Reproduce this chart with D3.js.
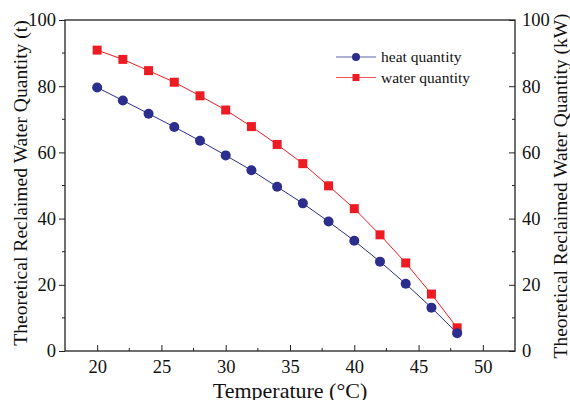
<!DOCTYPE html>
<html>
<head>
<meta charset="utf-8">
<script src="https://cdn.jsdelivr.net/npm/d3@7"></script>
<style>
  body { margin: 0; background: #fff; }
  text { font-family: "Liberation Serif", "Times New Roman", serif; fill: #111; }
</style>
</head>
<body>
<div id="viz"></div>
<script>
  var temps = [20, 22, 24, 26, 28, 30, 32, 34, 36, 38, 40, 42, 44, 46, 48];
  var heatVals = [79.6, 75.7, 71.7, 67.7, 63.5, 59.1, 54.6, 49.6, 44.6, 39.1, 33.3, 27.0, 20.3, 13.1, 5.4];
  var waterVals = [90.9, 88.1, 84.7, 81.2, 77.1, 72.8, 67.8, 62.4, 56.6, 49.9, 43.0, 35.1, 26.6, 17.2, 7.0];
  var xTicks = [20, 25, 30, 35, 40, 45, 50];
  var yTicks = [0, 20, 40, 60, 80, 100];
  var seriesNames = ["heat quantity", "water quantity"];

  (function() {
    var W = 570, H = 400;
    var mLeft = 65, mRight = 515, mTop = 20, mBottom = 351;
    var blue = "#2b2e8c", red = "#ed1c24";

    var svg = d3.select("#viz").append("svg").attr("width", W).attr("height", H);

    var x = d3.scaleLinear().domain([17.5, 52.5]).range([mLeft, mRight]);
    var y = d3.scaleLinear().domain([0, 100]).range([mBottom, mTop]);

    // frame
    svg.append("rect").attr("x", mLeft).attr("y", mTop)
      .attr("width", mRight - mLeft).attr("height", mBottom - mTop)
      .attr("fill", "none").attr("stroke", "#222").attr("stroke-width", 1.3);

    // bottom axis, ticks pointing in
    var xAx = svg.append("g").attr("transform", "translate(0," + mBottom + ")")
      .call(d3.axisBottom(x).tickValues(xTicks).tickSizeInner(-6).tickSizeOuter(0).tickPadding(9));
    xAx.selectAll("line").attr("stroke", "#222");
    xAx.selectAll(".tick text").style("font-size", "18.5px").attr("fill", "#111");
    var xMinor = d3.range(22.5, 52.5, 5);
    svg.append("g").selectAll("line").data(xMinor).enter().append("line")
      .attr("x1", function(d) { return x(d); }).attr("x2", function(d) { return x(d); })
      .attr("y1", mBottom).attr("y2", mBottom - 3).attr("stroke", "#222");

    // left axis, ticks out
    var yAx = svg.append("g").attr("transform", "translate(" + mLeft + ",0)")
      .call(d3.axisLeft(y).tickValues(yTicks).tickSize(6).tickSizeOuter(0).tickPadding(3));
    yAx.selectAll("line").attr("stroke", "#222");
    yAx.selectAll(".tick text").style("font-size", "18.5px").attr("fill", "#111");

    // right axis, ticks in
    var yAxR = svg.append("g").attr("transform", "translate(" + mRight + ",0)")
      .call(d3.axisRight(y).tickValues(yTicks).tickSizeInner(-6).tickSizeOuter(0).tickPadding(7));
    yAxR.selectAll("line").attr("stroke", "#222");
    yAxR.selectAll(".tick text").style("font-size", "18.5px").attr("fill", "#111");
    svg.selectAll(".domain").remove();

    var yMinor = d3.range(10, 100, 20);
    svg.append("g").selectAll("line").data(yMinor).enter().append("line")
      .attr("x1", mLeft - 3).attr("x2", mLeft)
      .attr("y1", function(d) { return y(d); }).attr("y2", function(d) { return y(d); })
      .attr("stroke", "#222");
    svg.append("g").selectAll("line").data(yMinor).enter().append("line")
      .attr("x1", mRight - 3).attr("x2", mRight)
      .attr("y1", function(d) { return y(d); }).attr("y2", function(d) { return y(d); })
      .attr("stroke", "#222");

    // titles
    svg.append("text").attr("x", 290).attr("y", 398)
      .attr("text-anchor", "middle").style("font-size", "22px").text("Temperature (\u00B0C)");
    svg.append("text").attr("transform", "translate(27,183) rotate(-90)")
      .attr("text-anchor", "middle").style("font-size", "19.6px")
      .text("Theoretical Reclaimed Water Quantity (t)");
    svg.append("text").attr("transform", "translate(567,186) rotate(-90)")
      .attr("text-anchor", "middle").style("font-size", "19.4px")
      .text("Theoretical Reclaimed Water Quantity (kW)");

    var line = d3.line().x(function(d) { return x(d[0]); }).y(function(d) { return y(d[1]); });
    var heat = d3.zip(temps, heatVals), water = d3.zip(temps, waterVals);

    svg.append("path").datum(water).attr("d", line).attr("fill", "none").attr("stroke", red).attr("stroke-width", 1);
    svg.append("path").datum(heat).attr("d", line).attr("fill", "none").attr("stroke", blue).attr("stroke-width", 1);

    svg.append("g").selectAll("rect").data(water).enter().append("rect")
      .attr("x", function(d) { return x(d[0]) - 4.5; }).attr("y", function(d) { return y(d[1]) - 4.5; })
      .attr("width", 9).attr("height", 9).attr("fill", red);
    svg.append("g").selectAll("circle").data(heat).enter().append("circle")
      .attr("cx", function(d) { return x(d[0]); }).attr("cy", function(d) { return y(d[1]); })
      .attr("r", 5).attr("fill", blue);

    // legend
    var lg = svg.append("g");
    var rows = [{ name: seriesNames[0], c: blue, y: 57 }, { name: seriesNames[1], c: red, y: 77.5 }];
    rows.forEach(function(r, i) {
      lg.append("line").attr("x1", 336).attr("x2", 376).attr("y1", r.y).attr("y2", r.y)
        .attr("stroke", r.c).attr("stroke-width", 1).attr("opacity", 0.75);
      if (i === 0) {
        lg.append("circle").attr("cx", 356).attr("cy", r.y).attr("r", 4).attr("fill", r.c);
      } else {
        lg.append("rect").attr("x", 352.5).attr("y", r.y - 3.5).attr("width", 7).attr("height", 7).attr("fill", r.c);
      }
      lg.append("text").attr("x", 381).attr("y", r.y + 5).style("font-size", "15.5px").text(r.name);
    });
  })();
</script>
</body>
</html>
